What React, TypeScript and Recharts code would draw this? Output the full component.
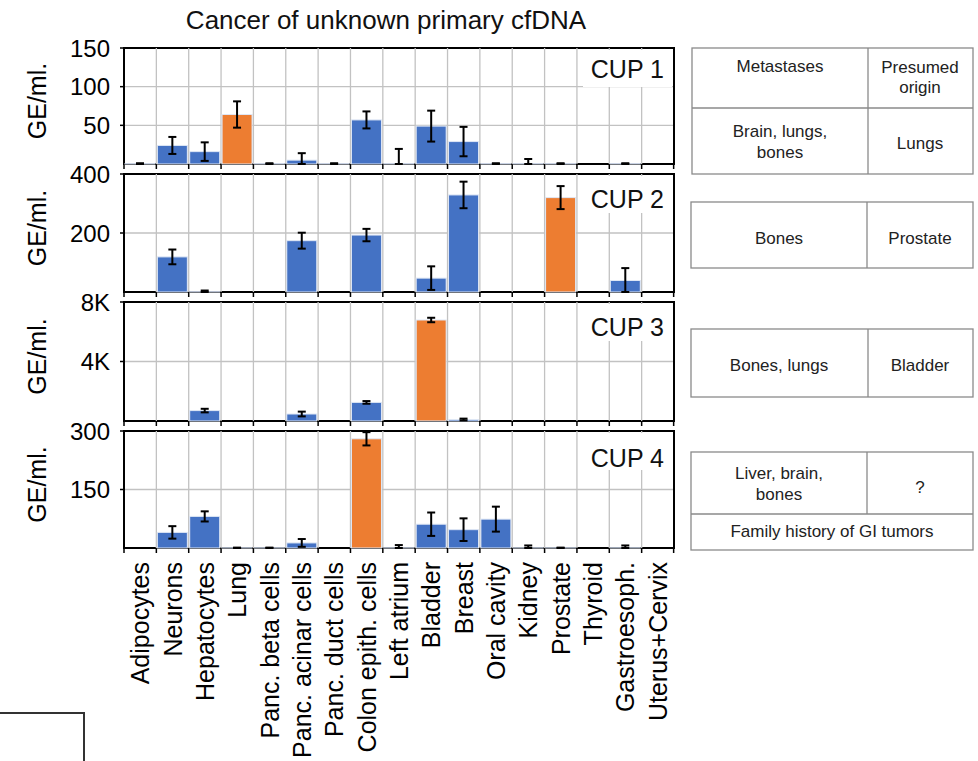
import React from 'react';
import { BarChart, Bar, XAxis, YAxis, CartesianGrid, ErrorBar, Cell, ReferenceArea } from 'recharts';

const categories = [
  'Adipocytes', 'Neurons', 'Hepatocytes', 'Lung', 'Panc. beta cells', 'Panc. acinar cells',
  'Panc. duct cells', 'Colon epith. cells', 'Left atrium', 'Bladder', 'Breast', 'Oral cavity',
  'Kidney', 'Prostate', 'Thyroid', 'Gastroesoph.', 'Uterus+Cervix',
];

const cup1Values = [0.5, 24, 16, 64, 0.5, 5, 0.5, 57, 0.5, 49, 29, 0.5, 0.5, 0.5, 0, 0.5, 0];
const cup1Errors = [0.5, 11, 12, 17, 0.5, 9, 0.5, 11, 19, 20, 19, 0.5, 6, 0.5, 0, 0.5, 0];
const cup2Values = [0, 119, 1, 0, 0, 174, 0, 193, 0, 47, 329, 0, 0, 320, 0, 39, 0];
const cup2Errors = [0, 25, 4, 0, 0, 27, 0, 21, 0, 40, 45, 0, 0, 39, 0, 42, 0];
const cup3Values = [0, 0, 700, 0, 0, 470, 0, 1250, 0, 6790, 100, 0, 0, 0, 0, 0, 0];
const cup3Errors = [0, 0, 120, 0, 0, 160, 0, 90, 0, 150, 60, 0, 0, 0, 0, 0, 0];
const cup4Values = [0, 40, 81, 0.5, 0.5, 13, 0, 280, 0.5, 61, 47, 74, 0.5, 0.5, 0, 0.5, 0];
const cup4Errors = [0, 16, 13, 0.5, 0.5, 10, 0, 17, 7, 30, 29, 32, 6, 0.5, 0, 6, 0];

const cupLabels = ['CUP 1', 'CUP 2', 'CUP 3', 'CUP 4'];
const highlighted = ['Lung', 'Prostate', 'Bladder', 'Colon epith. cells'];
const yMaxes = [150, 400, 8000, 300];
const yTicks1 = [50, 100, 150];
const yTicks2 = [200, 400];
const yTicks3 = [4000, 8000];
const yTicks4 = [150, 300];

const BLUE = '#4472C4';
const ORANGE = '#ED7D31';
const GRID = '#c2c2c2';
const PAGE_W = 978;
const PAGE_H = 761;
const FONT = '"Liberation Sans", Arial, Helvetica, sans-serif';
const TICK_SIZE = 5;
const TICK_MARGIN = 9;
const GAP = 1; // barCategoryGap in px on each side of a bar

const plainFmt = (v: number) => String(v);
const kFmt = (v: number) => `${v / 1000}K`;

const layout = [
  { plotTop: 48, plotBottom: 164, labelDy: 30 },
  { plotTop: 174, plotBottom: 292, labelDy: 34 },
  { plotTop: 302, plotBottom: 421, labelDy: 34 },
  { plotTop: 431, plotBottom: 548, labelDy: 36 },
];

const panels = [
  { values: cup1Values, errors: cup1Errors, ticks: yTicks1, fmt: plainFmt },
  { values: cup2Values, errors: cup2Errors, ticks: yTicks2, fmt: plainFmt },
  { values: cup3Values, errors: cup3Errors, ticks: yTicks3, fmt: kFmt },
  { values: cup4Values, errors: cup4Errors, ticks: yTicks4, fmt: plainFmt },
];

const CatLabel = (props: any) => {
  const { x, y, payload } = props;
  const cx = Number(x);
  return (
    <text
      x={cx}
      y={y}
      transform={`rotate(-90, ${cx}, ${y})`}
      textAnchor="end"
      dominantBaseline="central"
      fontSize={25}
      fill="#000"
      fontFamily={FONT}
    >
      {payload ? payload.value : ''}
    </text>
  );
};

// Bar shape: the bar itself, plus the vertical grid line and outward tick mark at the
// left boundary of its category band (bar x from the library minus the category gap).
const makeBarShape = (plotH: number) => (props: any) => {
  const X = Number(props.x);
  const W = Number(props.width);
  const Y = Number(props.y);
  const H = Number(props.height);
  if (!isFinite(X) || !isFinite(W)) return <g />;
  const bg = props.background;
  const hasBg = bg && isFinite(Number(bg.y)) && isFinite(Number(bg.height)) && Number(bg.height) > 0;
  const base = isFinite(Y) && isFinite(H) ? Y + Math.max(H, 0) : NaN;
  const bottom = hasBg ? Number(bg.y) + Number(bg.height) : base;
  const top = hasBg ? Number(bg.y) : bottom - plotH;
  const name = props.payload && props.payload.name !== undefined ? props.payload.name : props.name;
  let i = categories.indexOf(name);
  if (i < 0 && typeof props.index === 'number') i = props.index;
  const left = X - GAP;
  const right = X + W + GAP;
  const last = i === categories.length - 1;
  return (
    <g>
      {i > 0 && isFinite(top) && isFinite(bottom) && (
        <line x1={left} y1={top} x2={left} y2={bottom} stroke={GRID} strokeWidth={1.3} />
      )}
      {isFinite(bottom) && (
        <line x1={left} y1={bottom} x2={left} y2={bottom + TICK_SIZE} stroke="#000" strokeWidth={1.5} />
      )}
      {last && isFinite(bottom) && (
        <line x1={right} y1={bottom} x2={right} y2={bottom + TICK_SIZE} stroke="#000" strokeWidth={1.5} />
      )}
      {isFinite(H) && H > 0 && (
        <rect x={X} y={Y} width={W} height={H} fill={props.fill} stroke="#dfe7f5" strokeWidth={1} />
      )}
    </g>
  );
};

const renderYLabel = (props: any) => {
  const vb = props.viewBox || { x: 0, y: 0, width: 0, height: 0 };
  const cx = vb.x + 37;
  const cy = vb.y + vb.height / 2 - 5;
  return (
    <text
      x={cx}
      y={cy}
      transform={`rotate(-90, ${cx}, ${cy})`}
      textAnchor="middle"
      dominantBaseline="central"
      fontSize={25}
      fill="#000"
      fontFamily={FONT}
    >
      GE/ml.
    </text>
  );
};

const errRange = (d: any) => [Math.min(d.err, d.value), d.err];

function Panel({ idx }: { idx: number }) {
  const p = panels[idx];
  const l = layout[idx];
  const showLabels = idx === panels.length - 1;
  const yMax = yMaxes[idx];
  const data = categories.map((name, i) => ({ name, value: p.values[i], err: p.errors[i] }));
  const marginTop = 14;
  const chartTop = l.plotTop - marginTop;
  const axisH = showLabels ? 1 : 0;
  const plotH = l.plotBottom - l.plotTop;
  const marginBottom = showLabels ? PAGE_H - l.plotBottom - axisH : 10;
  const height = showLabels ? PAGE_H - chartTop : plotH + marginTop + marginBottom;
  const barShape = makeBarShape(plotH);
  return (
    <div style={{ position: 'absolute', left: 0, top: chartTop }}>
      <BarChart
        width={700}
        height={height}
        data={data}
        margin={{ top: marginTop, right: 26, bottom: marginBottom, left: 0 }}
        barCategoryGap={GAP}
      >
        <CartesianGrid stroke={GRID} strokeWidth={1.3} vertical={false} />
        <XAxis
          dataKey="name"
          type="category"
          hide={!showLabels}
          height={1}
          axisLine={false}
          tickLine={false}
          tickSize={TICK_SIZE}
          tickMargin={TICK_MARGIN}
          interval={0}
          tick={<CatLabel />}
        />
        <YAxis
          domain={[0, yMax]}
          ticks={p.ticks}
          width={124}
          axisLine={false}
          tickLine={{ stroke: '#000', strokeWidth: 1.5 }}
          tickSize={4}
          tickMargin={10}
          tick={{ fontSize: 24, fill: '#000', fontFamily: FONT }}
          tickFormatter={p.fmt}
          interval={0}
          label={{ content: renderYLabel }}
        />
        <Bar dataKey="value" isAnimationActive={false} shape={barShape}>
          {data.map((d, i) => (
            <Cell key={i} fill={d.name === highlighted[idx] ? ORANGE : BLUE} />
          ))}
          <ErrorBar dataKey={errRange} width={4} stroke="#000" strokeWidth={2} direction="y" />
        </Bar>
        <ReferenceArea
          y1={0}
          y2={yMax}
          fill="none"
          fillOpacity={0}
          stroke="#000"
          strokeWidth={2}
          ifOverflow="visible"
        />
      </BarChart>
    </div>
  );
}

const tableStroke = '#8a8a8a';
const tableText = '#222';

function Overlay() {
  const t = (x: number, y: number, s: string, size = 17) => (
    <text x={x} y={y} textAnchor="middle" fontSize={size} fill={tableText} fontFamily={FONT}>{s}</text>
  );
  return (
    <svg width={PAGE_W} height={PAGE_H} style={{ position: 'absolute', left: 0, top: 0, pointerEvents: 'none' }}>
      <text x={386} y={28.5} textAnchor="middle" fontSize={26} fill="#111" fontFamily={FONT}>
        Cancer of unknown primary cfDNA
      </text>
      {layout.map((l, i) => (
        <g key={i}>
          <rect x={583} y={l.plotTop + 2} width={89} height={37} fill="#fff" />
          <text x={664} y={l.plotTop + l.labelDy} textAnchor="end" fontSize={25} fill="#111" fontFamily={FONT}>
            {cupLabels[i]}
          </text>
        </g>
      ))}
      <g fill="none" stroke={tableStroke} strokeWidth={1.3}>
        <rect x={692} y={48} width={281} height={126} />
        <line x1={868} y1={48} x2={868} y2={174} />
        <line x1={692} y1={108} x2={973} y2={108} />
        <rect x={691} y={202} width={282} height={66} />
        <line x1={867} y1={202} x2={867} y2={268} />
        <rect x={691} y={329} width={282} height={68} />
        <line x1={868} y1={329} x2={868} y2={397} />
        <rect x={691} y={452} width={282} height={98} />
        <line x1={867} y1={452} x2={867} y2={514} />
        <line x1={691} y1={514} x2={973} y2={514} />
      </g>
      {t(780, 72, 'Metastases')}
      {t(920, 72.5, 'Presumed')}
      {t(920, 93, 'origin')}
      {t(780, 136.5, 'Brain, lungs,')}
      {t(780, 158, 'bones')}
      {t(920, 148.5, 'Lungs')}
      {t(779, 244, 'Bones')}
      {t(920, 244, 'Prostate')}
      {t(779, 371, 'Bones, lungs')}
      {t(920, 371, 'Bladder')}
      {t(779, 479, 'Liver, brain,')}
      {t(779, 499.5, 'bones')}
      {t(920, 492.5, '?')}
      {t(832, 537, 'Family history of GI tumors')}
      <path d="M -2 713 L 84 713 L 84 765" fill="none" stroke="#333" strokeWidth={2} />
    </svg>
  );
}

export default function App() {
  return (
    <div
      style={{
        position: 'absolute',
        left: 0,
        top: 0,
        width: PAGE_W,
        height: PAGE_H,
        overflow: 'hidden',
        background: '#fff',
        fontFamily: FONT,
      }}
    >
      {panels.map((_, i) => (
        <Panel key={i} idx={i} />
      ))}
      <Overlay />
    </div>
  );
}
